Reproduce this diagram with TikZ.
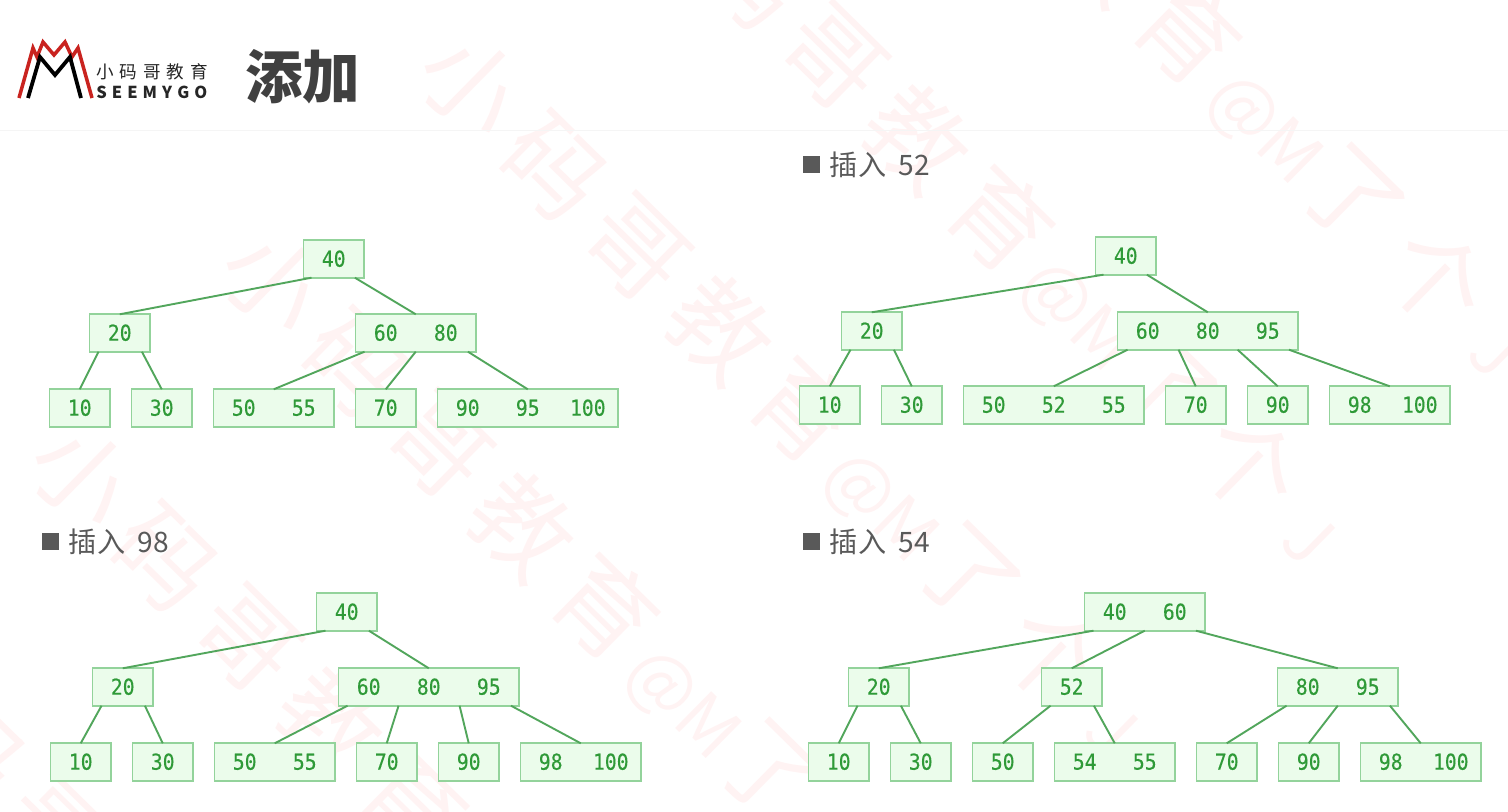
\documentclass[tikz,border=0pt]{standalone}
\usepackage{fontspec}
\setmainfont{Noto Sans CJK SC}
\newfontfamily\keyfont[FakeBold=0.25, FakeStretch=0.9]{DejaVu Sans Mono}
\usetikzlibrary{calc}
\newcommand{\kk}[1]{\makebox[42.7pt]{\raisebox{0.6pt}{#1}}}
\newcommand{\wmlatin}[1]{{\fontsize{50}{54}\selectfont #1}}
\newcommand{\wmtext}{小\hspace{12.8pt}码\hspace{12.8pt}哥\hspace{12.8pt}教\hspace{12.8pt}育\hspace{8pt}\wmlatin{@M}了\hspace{12.8pt}个\hspace{18pt}\wmlatin{J}}

\begin{document}
\begin{tikzpicture}[x=0.025cm, y=-0.025cm]
\tikzset{
    keybox/.style={draw=boxline, fill=boxfill, line width=1.25pt, inner sep=0pt, outer sep=0pt, minimum height=26.6pt, text=keygreen, font=\keyfont\fontsize{15.6}{16}\selectfont, anchor=north west, xshift=0.4pt, yshift=-0.2pt},
    one/.style={keybox, minimum width=42.9pt},
    two/.style={keybox, minimum width=85.6pt},
    three/.style={keybox, minimum width=128.3pt},
    edge/.style={draw=edgegreen, line width=1.35pt},
    heading/.style={anchor=west, text=headgray, font=\fontsize{20}{24}\selectfont},
    bullet/.style={fill=headgray, inner sep=0pt, minimum size=12pt, anchor=north west},
    wmark/.style={anchor=west, rotate=-44.5, inner sep=0pt, text=wmpink, font=\fontsize{70}{74}\selectfont}
}
\definecolor{boxline}{HTML}{93D39B}
\definecolor{boxfill}{HTML}{EBFCEB}
\definecolor{keygreen}{HTML}{2F9A38}
\definecolor{edgegreen}{HTML}{52A65C}
\definecolor{headgray}{HTML}{595959}
\definecolor{wmpink}{HTML}{FFF3F3}
\definecolor{titlegray}{HTML}{404040}
\definecolor{logored}{HTML}{C9231F}
\useasboundingbox (0,0) rectangle (1508,811);
\fill[white] (0,0) rectangle (1508,811);

% watermark
\node[wmark] (W1) at (819,-327) {\wmtext};
\node[wmark] (W2) at (632,-140) {\wmtext};
\node[wmark] (W3) at (435,51) {\wmtext};
\node[wmark] (W4) at (237,248) {\wmtext};
\node[wmark] (W5) at (46,442) {\wmtext};
\node[wmark] (W6) at (-147,632) {\wmtext};

% header
\draw[line width=0.7pt, black!4] (0,130) -- (1508,130);
\draw[logored, line width=2.5pt] (19,98) -- (33,48) -- (37,57) -- (43,42) -- (54,55) -- (65,42) -- (72,57) -- (78,48) -- (92,98);
\draw[black, line width=2.7pt] (28,98) -- (40,57) -- (55,75) -- (70,57) -- (81,98);
\node[anchor=west, inner sep=0pt, font=\fontsize{12.5}{14}\selectfont, text=black!85] (LogoCn) at (96,72) {小\hspace{4.2pt}码\hspace{4.2pt}哥\hspace{4.2pt}教\hspace{4.2pt}育};
\node[anchor=west, inner sep=0pt, font=\fontsize{11.7}{14}\bfseries\selectfont, text=black!85] (LogoEn) at (96,92) {S\hspace{3.6pt}E\hspace{3.6pt}E\hspace{3.6pt}M\hspace{3.6pt}Y\hspace{3.6pt}G\hspace{3.6pt}O};
\node[anchor=west, inner sep=0pt, text=titlegray, font=\fontsize{41}{44}\bfseries\selectfont] (Title) at (245,77) {添加};

% headings
\node[bullet] (B1) at (803,156) {}; \node[heading] (H1) at (825,165) {插入\hspace{4.3pt} 52};
\node[bullet] (B2) at (42,533) {}; \node[heading] (H2) at (64,542) {插入\hspace{4.3pt} 98};
\node[bullet] (B3) at (803,533) {}; \node[heading] (H3) at (825,542) {插入\hspace{4.3pt} 54};

% start tree
\node[one] (A40) at (303,240) {\kk{40}};
\node[one] (A20) at (89,314) {\kk{20}};
\node[two] (A60) at (355,314) {\kk{60}\kk{80}};
\node[one] (A10) at (49,389) {\kk{10}};
\node[one] (A30) at (131,389) {\kk{30}};
\node[two] (A50) at (213,389) {\kk{50}\kk{55}};
\node[one] (A70) at (355,389) {\kk{70}};
\node[three] (A90) at (437,389) {\kk{90}\kk{95}\kk{100}};
\draw[edge] ($(A40.south west)+(8,0)$) -- (A20.north); \draw[edge] ($(A40.south east)+(-9,0)$) -- (A60.north);
\draw[edge] ($(A20.south west)+(9,0)$) -- (A10.north); \draw[edge] ($(A20.south east)+(-8,0)$) -- (A30.north);
\draw[edge] ($(A60.south west)+(9,0)$) -- (A50.north); \draw[edge] (A60.south) -- (A70.north); \draw[edge] ($(A60.south east)+(-8,0)$) -- (A90.north);

% insert 52
\node[one] (B40) at (1095,237) {\kk{40}};
\node[one] (B20) at (841,312) {\kk{20}};
\node[three] (B60) at (1117,312) {\kk{60}\kk{80}\kk{95}};
\node[one] (B10) at (799,386) {\kk{10}};
\node[one] (B30) at (881,386) {\kk{30}};
\node[three] (B50) at (963,386) {\kk{50}\kk{52}\kk{55}};
\node[one] (B70) at (1165,386) {\kk{70}};
\node[one] (B90) at (1247,386) {\kk{90}};
\node[two] (B98) at (1329,386) {\kk{98}\kk{100}};
\draw[edge] ($(B40.south west)+(8,0)$) -- (B20.north); \draw[edge] ($(B40.south east)+(-9,0)$) -- (B60.north);
\draw[edge] ($(B20.south west)+(9,0)$) -- (B10.north); \draw[edge] ($(B20.south east)+(-8,0)$) -- (B30.north);
\draw[edge] ($(B60.south west)+(10,0)$) -- (B50.north); \draw[edge] ($(B60.south west)+(61,0)$) -- (B70.north);
\draw[edge] ($(B60.south west)+(120,0)$) -- (B90.north); \draw[edge] ($(B60.south east)+(-9,0)$) -- (B98.north);

% insert 98
\node[one] (C40) at (316,593) {\kk{40}};
\node[one] (C20) at (92,668) {\kk{20}};
\node[three] (C60) at (338,668) {\kk{60}\kk{80}\kk{95}};
\node[one] (C10) at (50,743) {\kk{10}};
\node[one] (C30) at (132,743) {\kk{30}};
\node[two] (C50) at (214,743) {\kk{50}\kk{55}};
\node[one] (C70) at (356,743) {\kk{70}};
\node[one] (C90) at (438,743) {\kk{90}};
\node[two] (C98) at (520,743) {\kk{98}\kk{100}};
\draw[edge] ($(C40.south west)+(9,0)$) -- (C20.north); \draw[edge] ($(C40.south east)+(-8,0)$) -- (C60.north);
\draw[edge] ($(C20.south west)+(9,0)$) -- (C10.north); \draw[edge] ($(C20.south east)+(-8,0)$) -- (C30.north);
\draw[edge] ($(C60.south west)+(9,0)$) -- (C50.north); \draw[edge] ($(C60.south west)+(60,0)$) -- (C70.north);
\draw[edge] ($(C60.south west)+(121,0)$) -- (C90.north); \draw[edge] ($(C60.south east)+(-8,0)$) -- (C98.north);

% insert 54
\node[two] (D40) at (1084,593) {\kk{40}\kk{60}};
\node[one] (D20) at (848,668) {\kk{20}};
\node[one] (D52) at (1041,668) {\kk{52}};
\node[two] (D80) at (1277,668) {\kk{80}\kk{95}};
\node[one] (D10) at (808,743) {\kk{10}};
\node[one] (D30) at (890,743) {\kk{30}};
\node[one] (D50) at (972,743) {\kk{50}};
\node[two] (D54) at (1054,743) {\kk{54}\kk{55}};
\node[one] (D70) at (1196,743) {\kk{70}};
\node[one] (D90) at (1278,743) {\kk{90}};
\node[two] (D98) at (1360,743) {\kk{98}\kk{100}};
\draw[edge] ($(D40.south west)+(9,0)$) -- (D20.north); \draw[edge] (D40.south) -- (D52.north); \draw[edge] ($(D40.south east)+(-9,0)$) -- (D80.north);
\draw[edge] ($(D20.south west)+(9,0)$) -- (D10.north); \draw[edge] ($(D20.south east)+(-8,0)$) -- (D30.north);
\draw[edge] ($(D52.south west)+(9,0)$) -- (D50.north); \draw[edge] ($(D52.south east)+(-8,0)$) -- (D54.north);
\draw[edge] ($(D80.south west)+(9,0)$) -- (D70.north); \draw[edge] (D80.south) -- (D90.north); \draw[edge] ($(D80.south east)+(-8,0)$) -- (D98.north);
\end{tikzpicture}
\end{document}
